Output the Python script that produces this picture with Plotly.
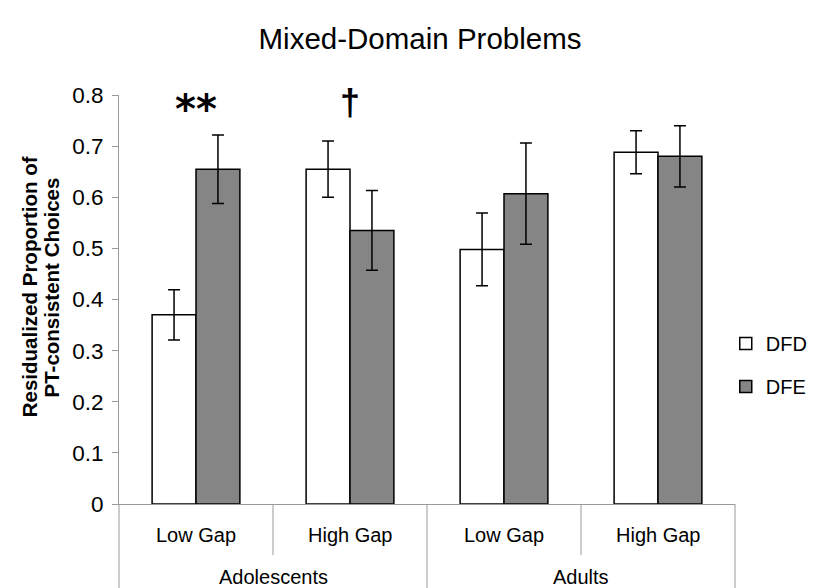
import plotly.graph_objects as go

groups = ["Adolescents", "Adolescents", "Adults", "Adults"]
gaps = ["Low Gap", "High Gap", "Low Gap", "High Gap"]
dfd = [0.370, 0.655, 0.498, 0.688]
dfd_err = [0.049, 0.055, 0.071, 0.042]
dfe = [0.655, 0.535, 0.607, 0.680]
dfe_err = [0.067, 0.078, 0.099, 0.060]
y_ticks = [0, 0.1, 0.2, 0.3, 0.4, 0.5, 0.6, 0.7, 0.8]
y_ticklabels = ["0", "0.1", "0.2", "0.3", "0.4", "0.5", "0.6", "0.7", "0.8"]
y_title_lines = ["Residualized Proportion of", "PT-consistent Choices"]
sig_marks = ["**", "†", "", ""]

FONT = "Liberation Sans, Arial, Helvetica, sans-serif"
GRAY = "#999999"

fig = go.Figure()
fig.add_trace(go.Bar(
    x=[groups, gaps], y=dfd, name="DFD",
    marker=dict(color="white", line=dict(color="black", width=1.5)),
    error_y=dict(type="data", array=dfd_err, color="black", thickness=1.5, width=6),
    legendgroup="a",
))
fig.add_trace(go.Bar(
    x=[groups, gaps], y=dfe, name="DFE",
    marker=dict(color="#858585", line=dict(color="black", width=1.5)),
    error_y=dict(type="data", array=dfe_err, color="black", thickness=1.5, width=6),
    legendgroup="b",
))

n = len(gaps)
for i, m in enumerate(sig_marks):
    if m == "**":
        fig.add_annotation(
            x=(i + 0.5) / n, xref="paper", xanchor="center",
            y=0.8, yref="y", yanchor="middle",
            yshift=-14, text="<b>**</b>", showarrow=False,
            font=dict(family="DejaVu Sans, sans-serif", size=40, color="black"),
        )
    elif m:
        fig.add_annotation(
            x=(i + 0.5) / n, xref="paper", xanchor="center",
            y=0.8, yref="y", yanchor="middle",
            yshift=-7, text="<b>" + m + "</b>", showarrow=False,
            font=dict(family=FONT, size=36, color="black"),
        )

# category table below the axis: inner labels, outer labels, dividers
for i in range(n):
    fig.add_annotation(x=(i + 0.5) / n, xref="paper", xanchor="center",
                       y=-0.076, yref="paper", yanchor="middle",
                       text=gaps[i], showarrow=False,
                       font=dict(family=FONT, size=20, color="black"))
outer = []
for g in groups:
    if g not in outer:
        outer.append(g)
for g in outer:
    idx = [i for i, v in enumerate(groups) if v == g]
    c = (idx[0] + idx[-1] + 1) / 2 / n
    fig.add_annotation(x=c, xref="paper", xanchor="center",
                       y=-0.178, yref="paper", yanchor="middle",
                       text=g, showarrow=False,
                       font=dict(family=FONT, size=20, color="black"))
for i in range(n + 1):
    full = i == 0 or i == n or groups[i] != groups[i - 1]
    fig.add_shape(type="line", xref="paper", yref="paper",
                  x0=i / n, x1=i / n, y0=0, y1=-0.21 if full else -0.125,
                  line=dict(color=GRAY, width=1))

# y-axis title, two bold lines
for k, line in enumerate(y_title_lines):
    fig.add_annotation(
        x=-0.146 + k * 0.036, xref="paper", y=0.53, yref="paper",
        xanchor="center", yanchor="middle",
        textangle=-90, showarrow=False, text="<b>" + line + "</b>",
        font=dict(family=FONT, size=20.5, color="black"),
    )

fig.update_layout(
    width=835, height=588,
    margin=dict(l=119, r=100, t=95, b=84),
    paper_bgcolor="white", plot_bgcolor="white",
    font=dict(family=FONT, size=20, color="black"),
    title=dict(text="Mixed-Domain Problems", x=0.503, xref="container",
               y=0.935, yanchor="middle",
               font=dict(family=FONT, size=29.5, color="black")),
    barmode="group", bargap=0.43, bargroupgap=0,
    showlegend=True,
    legend=dict(x=0.985, y=0.34, xanchor="left", yanchor="middle",
                font=dict(family=FONT, size=20), tracegroupgap=14,
                bgcolor="rgba(0,0,0,0)", itemwidth=30),
)
fig.update_yaxes(
    range=[0, 0.8], tickvals=y_ticks, ticktext=y_ticklabels,
    showline=True, linecolor=GRAY, linewidth=1,
    ticks="outside", ticklen=6, tickcolor=GRAY,
    showgrid=False, zeroline=False,
    tickfont=dict(size=22.5), ticklabelstandoff=4,
)
fig.update_xaxes(
    showline=True, linecolor=GRAY, linewidth=1,
    showdividers=False, showticklabels=False, ticks="",
)

fig.write_html("out.html")
